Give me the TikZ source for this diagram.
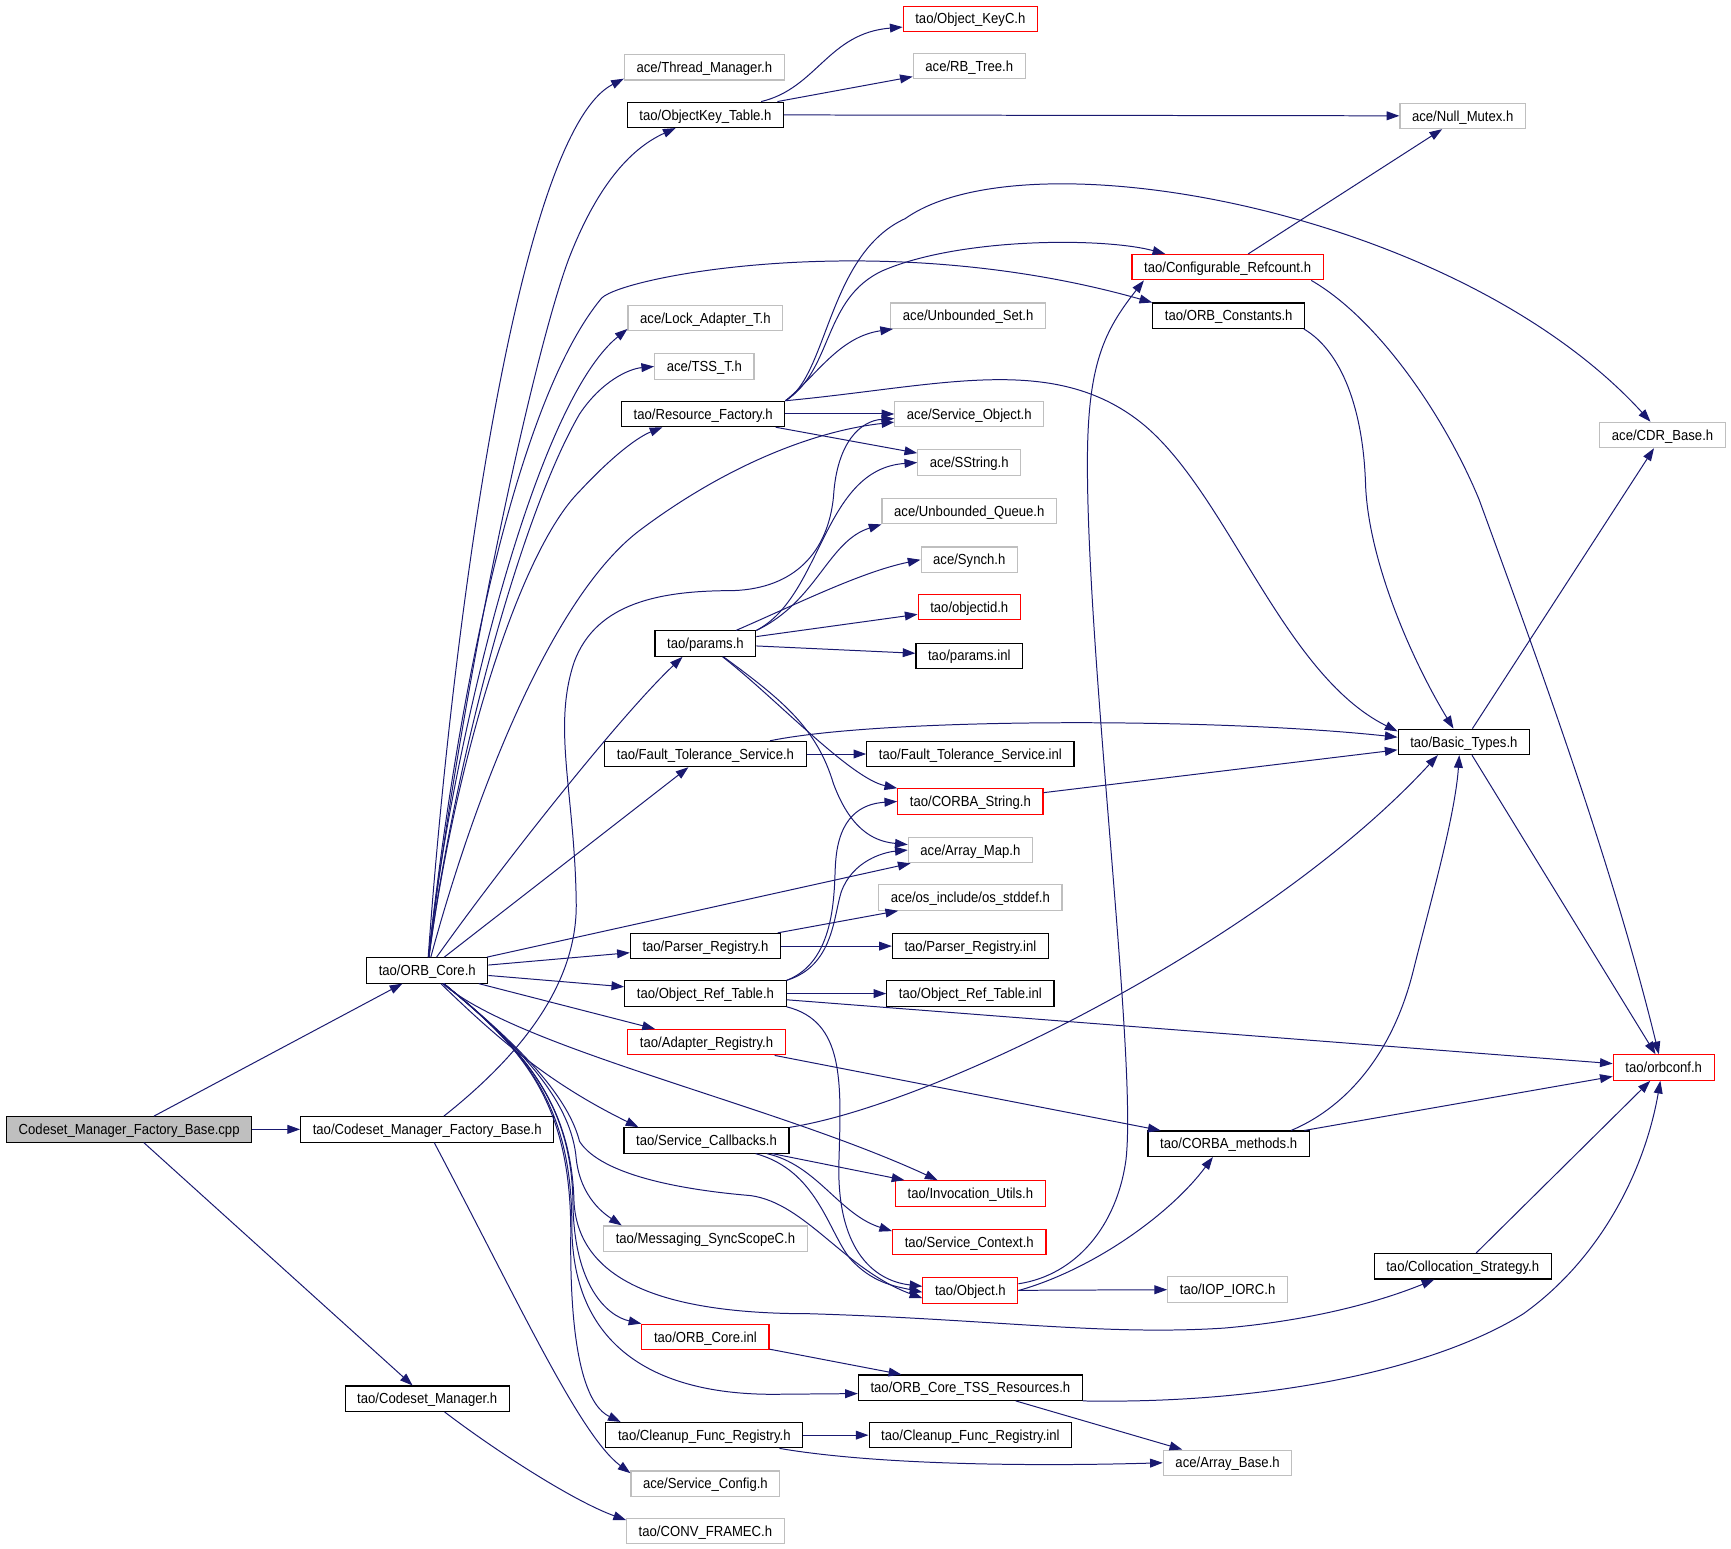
\documentclass[tikz,border=0pt]{standalone}
\usepackage{fontspec}
\setmainfont{Liberation Sans}[FakeStretch=0.9]
\usetikzlibrary{arrows.meta}
\definecolor{edgeblue}{RGB}{25,25,112}
\definecolor{boxgrey}{RGB}{191,191,191}

\begin{document}
\begin{tikzpicture}[x=1pt,y=-1pt,
		hdr/.style={draw=black, fill=white, line width=1pt, rectangle, inner xsep=11pt, inner ysep=0pt, minimum height=23pt, text height=9.4pt, text depth=0pt, font=\fontsize{13.2}{15}\selectfont},
		plainhdr/.style={hdr, draw=boxgrey},
		cuthdr/.style={hdr, draw=red},
		roothdr/.style={hdr, fill=boxgrey},
		incl/.style={draw=edgeblue, line width=0.9pt, -{Triangle[length=11.5pt,width=8pt]}}]
		\useasboundingbox (0,0) rectangle (1568,1403);
		\node[roothdr] (cpp) at (117,1023) {Codeset\_Manager\_Factory\_Base.cpp};
		\node[hdr] (cfb) at (387,1023) {tao/Codeset\_Manager\_Factory\_Base.h};
		\node[hdr] (csm) at (387,1267) {tao/Codeset\_Manager.h};
		\node[hdr] (orbcore) at (387,879) {tao/ORB\_Core.h};
		\node[plainhdr] (thread) at (638,61) {ace/Thread\_Manager.h};
		\node[hdr] (okt) at (639,104) {tao/ObjectKey\_Table.h};
		\node[cuthdr] (okc) at (879,17) {tao/Object\_KeyC.h};
		\node[plainhdr] (rbtree) at (878,60) {ace/RB\_Tree.h};
		\node[plainhdr] (nullmutex) at (1325,105) {ace/Null\_Mutex.h};
		\node[cuthdr] (cfgref) at (1112,242) {tao/Configurable\_Refcount.h};
		\node[hdr] (orbconst) at (1113,286) {tao/ORB\_Constants.h};
		\node[plainhdr] (lockad) at (639,288) {ace/Lock\_Adapter\_T.h};
		\node[plainhdr] (tss) at (638,332) {ace/TSS\_T.h};
		\node[plainhdr] (unbset) at (877,286) {ace/Unbounded\_Set.h};
		\node[hdr] (resfac) at (637,375) {tao/Resource\_Factory.h};
		\node[plainhdr] (svcobj) at (878,375) {ace/Service\_Object.h};
		\node[plainhdr] (sstring) at (878,419) {ace/SString.h};
		\node[plainhdr] (unbq) at (878,463) {ace/Unbounded\_Queue.h};
		\node[plainhdr] (synch) at (878,507) {ace/Synch.h};
		\node[cuthdr] (objid) at (878,550) {tao/objectid.h};
		\node[hdr] (paramsinl) at (878,594) {tao/params.inl};
		\node[hdr] (params) at (639,583) {tao/params.h};
		\node[plainhdr] (cdr) at (1506,394) {ace/CDR\_Base.h};
		\node[hdr] (basic) at (1326,672) {tao/Basic\_Types.h};
		\node[hdr] (fts) at (639,683) {tao/Fault\_Tolerance\_Service.h};
		\node[hdr] (ftsinl) at (879,683) {tao/Fault\_Tolerance\_Service.inl};
		\node[cuthdr] (cstring) at (879,726) {tao/CORBA\_String.h};
		\node[plainhdr] (arraymap) at (879,770) {ace/Array\_Map.h};
		\node[plainhdr] (stddef) at (879,813) {ace/os\_include/os\_stddef.h};
		\node[hdr] (parser) at (639,857) {tao/Parser\_Registry.h};
		\node[hdr] (parserinl) at (879,857) {tao/Parser\_Registry.inl};
		\node[hdr] (ort) at (639,900) {tao/Object\_Ref\_Table.h};
		\node[hdr] (ortinl) at (879,900) {tao/Object\_Ref\_Table.inl};
		\node[cuthdr] (orbconf) at (1507,967) {tao/orbconf.h};
		\node[cuthdr] (adapter) at (640,944) {tao/Adapter\_Registry.h};
		\node[hdr] (methods) at (1113,1036) {tao/CORBA\_methods.h};
		\node[hdr] (svccb) at (640,1033) {tao/Service\_Callbacks.h};
		\node[cuthdr] (invoc) at (879,1081) {tao/Invocation\_Utils.h};
		\node[plainhdr] (syncscope) at (639,1122) {tao/Messaging\_SyncScopeC.h};
		\node[cuthdr] (svcctx) at (878,1125) {tao/Service\_Context.h};
		\node[cuthdr] (object) at (879,1169) {tao/Object.h};
		\node[plainhdr] (ior) at (1112,1168) {tao/IOP\_IORC.h};
		\node[hdr] (colloc) at (1325,1147) {tao/Collocation\_Strategy.h};
		\node[cuthdr] (orbinl) at (639,1211) {tao/ORB\_Core.inl};
		\node[hdr] (tssres) at (879,1257) {tao/ORB\_Core\_TSS\_Resources.h};
		\node[hdr] (cleanup) at (638,1300) {tao/Cleanup\_Func\_Registry.h};
		\node[hdr] (cleanupinl) at (879,1300) {tao/Cleanup\_Func\_Registry.inl};
		\node[plainhdr] (arraybase) at (1112,1325) {ace/Array\_Base.h};
		\node[plainhdr] (svccfg) at (639,1344) {ace/Service\_Config.h};
		\node[plainhdr] (convframe) at (639,1387) {tao/CONV\_FRAMEC.h};
		\draw[incl] (cpp) -- (cfb);
		\draw[incl] (cpp) -- (orbcore);
		\draw[incl] (cpp) -- (csm);
		\draw[incl] (cfb) .. controls (460,965) and (522,900) .. (522,820) .. controls (521,720) and (500,660) .. (520,600) .. controls (540,545) and (600,535) .. (664,535) .. controls (720,533) and (750,500) .. (755,450) .. controls (758,400) and (780,381) .. (svcobj);
		\draw[incl] (cfb) .. controls (470,1180) and (525,1300) .. (svccfg.172);
		\draw[incl] (csm) .. controls (450,1315) and (520,1360) .. (convframe.172);
		\draw[incl] (orbcore) .. controls (410,560) and (470,120) .. (thread.188);
		\draw[incl] (orbcore) .. controls (415,640) and (480,330) .. (515,235) .. controls (540,170) and (570,135) .. (okt.204);
		\draw[incl] (orbcore) .. controls (415,620) and (470,360) .. (545,270) .. controls (565,250) and (800,205) .. (orbconst.north west);
		\draw[incl] (orbcore) .. controls (405,700) and (480,370) .. (lockad.188);
		\draw[incl] (orbcore) .. controls (410,700) and (470,470) .. (525,375) .. controls (545,345) and (570,334) .. (tss.west);
		\draw[incl] (orbcore) .. controls (412,690) and (470,500) .. (525,445) .. controls (550,418) and (575,397) .. (resfac.198);
		\draw[incl] (orbcore) .. controls (430,720) and (500,540) .. (580,480) .. controls (660,420) and (740,390) .. (svcobj);
		\draw[incl] (orbcore) .. controls (450,790) and (560,650) .. (params.210);
		\draw[incl] (orbcore) -- (fts);
		\draw[incl] (orbcore) -- (arraymap);
		\draw[incl] (orbcore) -- (parser);
		\draw[incl] (orbcore) -- (ort);
		\draw[incl] (orbcore) -- (adapter);
		\draw[incl] (orbcore) .. controls (470,950) and (700,1000) .. (invoc.158);
		\draw[incl] (orbcore) .. controls (460,950) and (505,985) .. (svccb.169);
		\draw[incl] (orbcore) .. controls (475,950) and (515,995) .. (525,1034) .. controls (545,1065) and (620,1078) .. (680,1083) .. controls (730,1090) and (765,1150) .. (object.189);
		\draw[incl] (orbcore) .. controls (475,950) and (518,1000) .. (522,1050) .. controls (526,1085) and (548,1100) .. (syncscope.171);
		\draw[incl] (orbcore) .. controls (475,950) and (518,1000) .. (520,1090) .. controls (525,1160) and (600,1190) .. (733,1190) .. controls (900,1195) and (1000,1210) .. (1109,1203) .. controls (1200,1195) and (1260,1175) .. (colloc.205);
		\draw[incl] (orbcore) .. controls (475,950) and (518,1000) .. (519,1090) .. controls (520,1165) and (550,1192) .. (orbinl.north west);
		\draw[incl] (orbcore) .. controls (475,950) and (518,1000) .. (518,1110) .. controls (518,1225) and (600,1263) .. (700,1263) -- (tssres.183);
		\draw[incl] (orbcore) .. controls (475,950) and (518,1000) .. (517,1120) .. controls (516,1240) and (535,1275) .. (cleanup.171);
		\draw[incl] (okt) .. controls (740,80) and (750,30) .. (okc.187);
		\draw[incl] (okt) -- (rbtree);
		\draw[incl] (okt) -- (nullmutex);
		\draw[incl] (resfac.north east) .. controls (750,340) and (750,230) .. (820,198) .. controls (930,120) and (1320,190) .. (cdr);
		\draw[incl] (resfac.north east) .. controls (755,335) and (745,270) .. (800,245) .. controls (870,215) and (1000,215) .. (cfgref.168);
		\draw[incl] (resfac.north east) .. controls (740,340) and (760,305) .. (unbset.190);
		\draw[incl] (resfac.north east) .. controls (850,350) and (950,320) .. (1030,380) .. controls (1110,440) and (1160,610) .. (basic.171);
		\draw[incl] (resfac) -- (svcobj);
		\draw[incl] (resfac) -- (sstring);
		\draw[incl] (params.north east) .. controls (745,540) and (745,425) .. (sstring.west);
		\draw[incl] (params.north east) .. controls (740,545) and (750,490) .. (unbq.south west);
		\draw[incl] (params) .. controls (720,548) and (780,518) .. (synch.west);
		\draw[incl] (params) -- (objid);
		\draw[incl] (params) -- (paramsinl);
		\draw[incl] (params) .. controls (700,630) and (770,705) .. (cstring.north west);
		\draw[incl] (params) .. controls (710,635) and (740,660) .. (755,710) .. controls (770,750) and (790,762) .. (arraymap.175);
		\draw[incl] (fts) .. controls (800,650) and (1100,650) .. (basic.176);
		\draw[incl] (fts) -- (ftsinl);
		\draw[incl] (cstring) -- (basic);
		\draw[incl] (parser) -- (stddef);
		\draw[incl] (parser) -- (parserinl);
		\draw[incl] (ort.north east) .. controls (760,870) and (755,800) .. (757,780) .. controls (760,740) and (780,728) .. (cstring.west);
		\draw[incl] (ort.north east) .. controls (755,875) and (755,830) .. (762,808) .. controls (772,780) and (800,772) .. (arraymap.west);
		\draw[incl] (ort) -- (ortinl);
		\draw[incl] (ort) -- (orbconf);
		\draw[incl] (ort.south east) .. controls (765,925) and (762,980) .. (760,1050) .. controls (757,1130) and (790,1160) .. (object.175);
		\draw[incl] (adapter) -- (methods);
		\draw[incl] (svccb) -- (invoc);
		\draw[incl] (svccb) .. controls (740,1055) and (760,1100) .. (svcctx.172);
		\draw[incl] (svccb) .. controls (740,1060) and (750,1115) .. (770,1140) .. controls (790,1162) and (810,1165) .. (object.182);
		\draw[incl] (svccb) .. controls (850,1000) and (1150,850) .. (basic.207);
		\draw[incl] (object.8) .. controls (975,1155) and (1012,1110) .. (1020,1050) .. controls (1030,960) and (985,600) .. (985,420) .. controls (985,330) and (1000,300) .. (cfgref.189);
		\draw[incl] (object.east) .. controls (990,1150) and (1060,1100) .. (methods.220);
		\draw[incl] (object) -- (ior);
		\draw[incl] (cfgref) -- (nullmutex);
		\draw[incl] (cfgref.-9) .. controls (1250,290) and (1310,380) .. (1340,453) .. controls (1390,590) and (1460,780) .. (orbconf.110);
		\draw[incl] (orbconst.-10) .. controls (1215,318) and (1235,370) .. (1237,440) .. controls (1240,510) and (1280,600) .. (basic.128);
		\draw[incl] (basic) -- (cdr);
		\draw[incl] (basic) -- (orbconf);
		\draw[incl] (methods.12) .. controls (1215,1005) and (1260,960) .. (1280,880) .. controls (1295,820) and (1318,740) .. (basic.251);
		\draw[incl] (methods) -- (orbconf);
		\draw[incl] (colloc) -- (orbconf);
		\draw[incl] (orbinl) -- (tssres);
		\draw[incl] (tssres.south east) .. controls (1150,1272) and (1300,1240) .. (1380,1190) .. controls (1450,1140) and (1490,1060) .. (orbconf.256);
		\draw[incl] (tssres) -- (arraybase);
		\draw[incl] (cleanup) -- (cleanupinl);
		\draw[incl] (cleanup.-10) .. controls (800,1328) and (950,1328) .. (arraybase.west);
	\end{tikzpicture}
\end{document}
